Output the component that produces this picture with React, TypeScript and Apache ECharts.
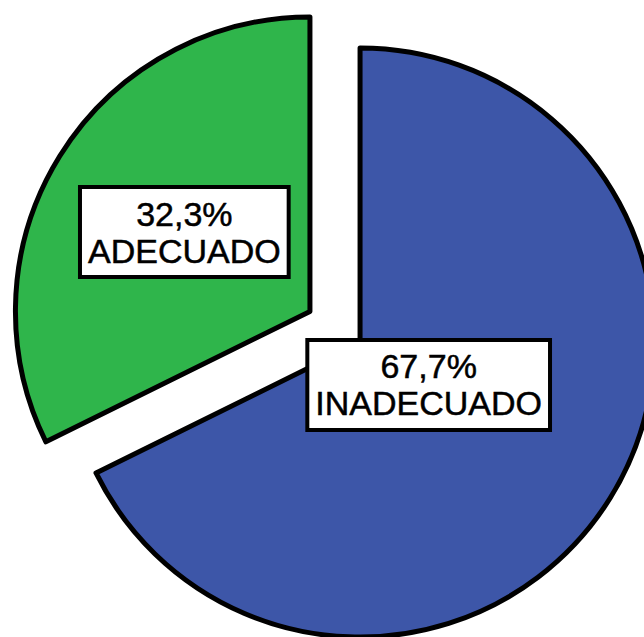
import React, { useEffect, useRef } from "react";
import * as echarts from "echarts";

const categories = ["INADECUADO", "ADECUADO"];
const values = [67.7, 32.3];
const labelsPct = ["67,7%", "32,3%"];
const colors = ["#3D56A8", "#2FB54B"];

export default function App() {
  const ref = useRef<HTMLDivElement>(null);
  useEffect(() => {
    const chart = echarts.init(ref.current!, null, { renderer: "svg" });
    const data = categories.map((name, i) => ({
      name,
      value: values[i],
      selected: true,
      itemStyle: { color: colors[i] },
      select: { itemStyle: { color: colors[i], borderColor: "#000", borderWidth: 5 } },
    }));
    chart.setOption({
      animation: false,
      backgroundColor: "#ffffff",
      series: [
        {
          type: "pie",
          center: [335, 327],
          radius: 294.5,
          startAngle: 90,
          clockwise: true,
          selectedMode: "multiple",
          selectedOffset: 29.5,
          avoidLabelOverlap: false,
          emphasis: { disabled: true },
          itemStyle: { borderColor: "#000", borderWidth: 5 },
          label: {
            show: true,
            position: "inside",
            formatter: (p: any) => `${labelsPct[p.dataIndex]}\n${p.name}`,
            color: "#000",
            fontFamily: "Liberation Sans, Arial, sans-serif",
            fontSize: 34,
            lineHeight: 37,
            textBorderColor: "#000",
            textBorderWidth: 0.5,
            backgroundColor: "#fff",
            borderColor: "#000",
            borderWidth: 4,
            padding: [7, 6, 5, 6],
          },
          labelLine: { show: false },
          labelLayout: (p: any) => (p.dataIndex === 0 ? { dx: -59, dy: -37 } : { dx: 2, dy: 0 }),
          data,
        },
      ],
    });
    return () => chart.dispose();
  }, []);
  return (
    <div
      ref={ref}
      style={{ position: "fixed", left: 0, top: 0, width: 644, height: 637 }}
    />
  );
}
